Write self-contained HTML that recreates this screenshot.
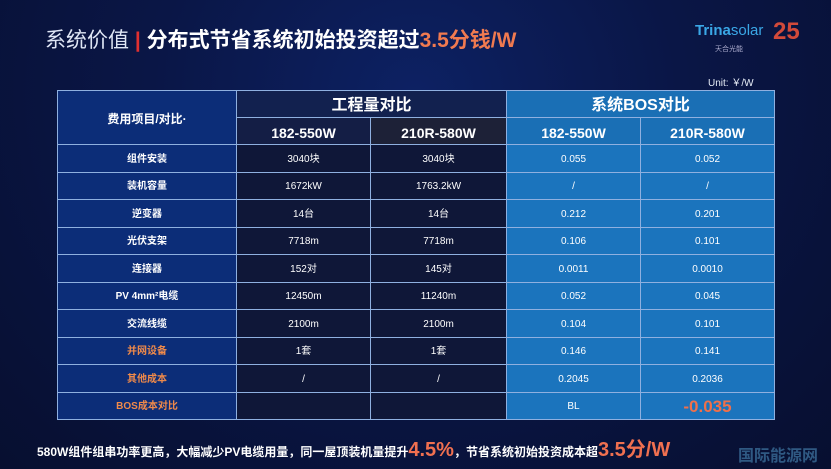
<!DOCTYPE html>
<html><head><meta charset="utf-8"><style>
*{margin:0;padding:0;box-sizing:border-box}
body{width:831px;height:469px;overflow:hidden;background:radial-gradient(ellipse at 50% 20%,#0d2163 0%,#0a1646 45%,#070f30 100%);font-family:"Liberation Sans","Noto Sans CJK SC",sans-serif;color:#fff;position:relative}
.t{position:absolute;white-space:nowrap}
table{position:absolute;left:57px;top:90px;border-collapse:collapse;table-layout:fixed}
td{border:1px solid #8fb0e0;text-align:center;font-size:10px;height:27.5px;padding:3px 0 0 0;line-height:22px;vertical-align:middle}
td.l{background:#0c2d78;font-weight:bold;font-size:10px}
td.m{background:#0f1738}
td.r{background:#1b74bd}
td.o{color:#f08a4a}
.h1{height:27px;font-size:16px;font-weight:bold;line-height:22px}
.h2{height:27px;font-size:14px;font-weight:bold;line-height:22px}
</style></head><body>
<div class="t" style="left:45px;top:24px;font-size:21px;color:#dfe6f5">系统价值 <span style="color:#e03030;font-weight:bold">|</span> <b style="color:#fff">分布式节省系统初始投资超过</b><b style="color:#f07a50">3.5分钱/W</b></div>
<div class="t" style="left:695px;top:22px;font-size:15px;color:#3aa7e6;font-weight:bold">Trina<span style="font-weight:normal">solar</span></div>
<div class="t" style="left:715px;top:44px;font-size:7px;color:#aac">天合光能</div>
<div class="t" style="left:773px;top:18px;font-size:24px;color:#d24a3a;font-weight:bold">25</div>
<div class="t" style="left:708px;top:74px;font-size:10px;color:#e8eef8">Unit: ￥/W</div>
<table>
<colgroup><col style="width:179px"><col style="width:134px"><col style="width:136px"><col style="width:134px"><col style="width:134px"></colgroup>
<tr><td class="l" rowspan="2" style="font-size:12px">费用项目/对比·</td><td class="m h1" colspan="2" style="background:#12214f">工程量对比</td><td class="r h1" colspan="2" style="background:#1a6fb5">系统BOS对比</td></tr>
<tr><td class="m h2" style="background:#141e45">182-550W</td><td class="m h2" style="background:#1d2137">210R-580W</td><td class="r h2" style="background:#1a6fb5">182-550W</td><td class="r h2" style="background:#1a6fb5">210R-580W</td></tr>
<tr><td class="l">组件安装</td><td class="m">3040块</td><td class="m">3040块</td><td class="r">0.055</td><td class="r">0.052</td></tr>
<tr><td class="l">装机容量</td><td class="m">1672kW</td><td class="m">1763.2kW</td><td class="r">/</td><td class="r">/</td></tr>
<tr><td class="l">逆变器</td><td class="m">14台</td><td class="m">14台</td><td class="r">0.212</td><td class="r">0.201</td></tr>
<tr><td class="l">光伏支架</td><td class="m">7718m</td><td class="m">7718m</td><td class="r">0.106</td><td class="r">0.101</td></tr>
<tr><td class="l">连接器</td><td class="m">152对</td><td class="m">145对</td><td class="r">0.0011</td><td class="r">0.0010</td></tr>
<tr><td class="l">PV 4mm²电缆</td><td class="m">12450m</td><td class="m">11240m</td><td class="r">0.052</td><td class="r">0.045</td></tr>
<tr><td class="l">交流线缆</td><td class="m">2100m</td><td class="m">2100m</td><td class="r">0.104</td><td class="r">0.101</td></tr>
<tr><td class="l o">并网设备</td><td class="m">1套</td><td class="m">1套</td><td class="r">0.146</td><td class="r">0.141</td></tr>
<tr><td class="l o">其他成本</td><td class="m">/</td><td class="m">/</td><td class="r">0.2045</td><td class="r">0.2036</td></tr>
<tr><td class="l o">BOS成本对比</td><td class="m"></td><td class="m"></td><td class="r">BL</td><td class="r" style="color:#f0704a;font-size:17px;font-weight:bold">-0.035</td></tr>
</table>
<div class="t" style="left:37px;top:433px;font-size:12px;font-weight:bold">580W组件组串功率更高，大幅减少PV电缆用量，同一屋顶装机量提升<span style="color:#f07050;font-size:20px">4.5%</span>，节省系统初始投资成本超<span style="color:#f07050;font-size:20px">3.5分/W</span></div>
<div class="t" style="left:738px;top:442px;font-size:16px;color:#4a8ab8;opacity:.6;font-weight:bold">国际能源网</div>
</body></html>
